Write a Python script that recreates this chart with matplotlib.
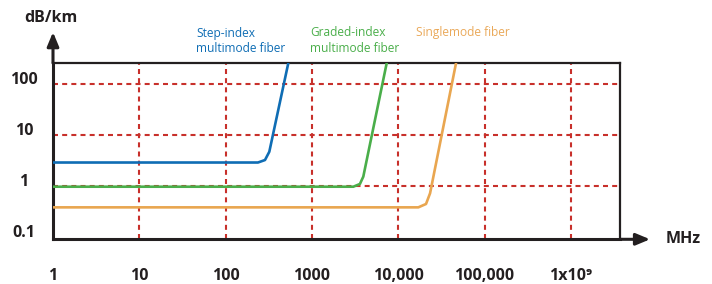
import matplotlib
matplotlib.use('Agg')
import matplotlib.pyplot as plt
from matplotlib.patches import FancyArrowPatch, ArrowStyle
from matplotlib.transforms import ScaledTranslation

plt.rcParams['font.family'] = ['Open Sans', 'DejaVu Sans']
plt.rcParams['lines.scale_dashes'] = False

# ---- data ----
x_ticks = [1, 10, 100, 1000, 1e4, 1e5, 1e6]
x_labels = ['1', '10', '100', '1000', '10,000', '100,000', '1x10\u2079']
y_ticks = [0.1, 1, 10, 100]
y_labels = ['0.1', '1', '10', '100']
x_grid = [10, 100, 1000, 1e4, 1e5, 1e6]
y_grid = [1, 10, 100]

step_f = [1, 237, 286, 321, 533]
step_db = [2.95, 2.95, 3.3, 4.8, 263]
graded_f = [1, 3020, 3600, 3940, 7360]
graded_db = [0.99, 0.99, 1.12, 1.56, 263]
single_f = [1, 17100, 21000, 23400, 46800]
single_db = [0.39, 0.39, 0.454, 0.736, 263]

names = ['Step-index\nmultimode fiber', 'Graded-index\nmultimode fiber', 'Singlemode fiber']

BLUE = '#0f6db4'
GREEN = '#4aae4a'
ORANGE = '#e9a650'
RED = '#c8302b'
BLACK = '#231f20'

fig = plt.figure(figsize=(7.12, 2.84), dpi=100)
ax = fig.add_axes([53/712, 1-239.3/284, (620-53)/712, (239.3-63)/284])
ax.set_xscale('log')
ax.set_yscale('log')
ax.set_xlim(1, 10**6.57)
ax.set_ylim(10**-1.035, 10**2.42)

for g in x_grid:
    ax.axvline(g, color=RED, lw=1.5, dashes=(3.6, 3.0), zorder=1)
for g in y_grid:
    ax.axhline(g, color=RED, lw=1.5, dashes=(3.6, 3.0), zorder=1)

ax.plot(step_f, step_db, color=BLUE, lw=1.9, zorder=3, solid_joinstyle='round')
ax.plot(graded_f, graded_db, color=GREEN, lw=1.9, zorder=3, solid_joinstyle='round')
ax.plot(single_f, single_db, color=ORANGE, lw=1.9, zorder=3, solid_joinstyle='round')

ax.set_xticks(x_ticks, labels=x_labels, fontsize=11.5, fontweight='bold', color=BLACK)
ax.set_yticks(y_ticks, labels=y_labels, fontsize=11.5, fontweight='bold', color=BLACK,
              ha='center', va='center')
ax.minorticks_off()
ax.tick_params(axis='x', length=0, pad=21)
ax.tick_params(axis='y', length=0, pad=21)
up = ScaledTranslation(0, 4.5/100, fig.dpi_scale_trans)
for t in ax.yaxis.get_major_ticks():
    t.label1.set_transform(t.label1.get_transform() + up)

for s in ['left', 'bottom']:
    ax.spines[s].set_linewidth(2.2)
    ax.spines[s].set_color(BLACK)
for s in ['top', 'right']:
    ax.spines[s].set_linewidth(1.6)
    ax.spines[s].set_color(BLACK)

style = ArrowStyle('-|>', head_length=0.6, head_width=0.25)
a1 = FancyArrowPatch((0, 1), (0, 1.175), transform=ax.transAxes, arrowstyle=style,
                     mutation_scale=14, lw=2.2, color=BLACK, shrinkA=0, shrinkB=0, clip_on=False)
a2 = FancyArrowPatch((1, 0), (1.053, 0), transform=ax.transAxes, arrowstyle=style,
                     mutation_scale=14, lw=2.2, color=BLACK, shrinkA=0, shrinkB=0, clip_on=False)
ax.add_patch(a1)
ax.add_patch(a2)

fig.text(51/712, 1-18/284, 'dB/km', fontsize=11.5, fontweight='bold', color=BLACK,
         ha='center', va='center')
fig.text(666/712, 1-239/284, 'MHz', fontsize=11.5, fontweight='bold', color=BLACK,
         ha='left', va='center')

fig.text(196/712, 1-41/284, names[0], fontsize=8.6, color=BLUE, ha='left', va='center',
         linespacing=1.3)
fig.text(310/712, 1-41/284, names[1], fontsize=8.6, color=GREEN, ha='left', va='center',
         linespacing=1.3)
fig.text(416/712, 1-32.5/284, names[2], fontsize=8.6, color='#eaa95a', ha='left', va='center')

fig.savefig('out.png', dpi=100)
